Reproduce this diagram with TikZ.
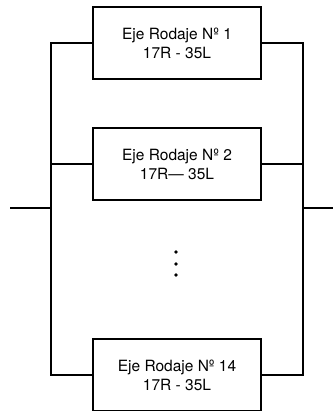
\documentclass[tikz,border=0pt]{standalone}
\usepackage{fontspec}
\setmainfont{TeX Gyre Heros}
\usepackage{tikz}

\begin{document}
\begin{tikzpicture}[x=1pt, y=-1pt, line width=2.2pt,
    eje/.style={rectangle, draw, minimum width=168pt, minimum height=72pt,
        align=center, font=\fontsize{15.5}{19}\selectfont}]
    \useasboundingbox (0,0) rectangle (333,411);

    \node (eje1) [eje] at (177,43) {Eje Rodaje Nº 1\\17R - 35L};
    \node (eje2) [eje] at (177,164) {Eje Rodaje Nº 2\\17R--- 35L};
    \node (eje14) [eje] at (177,375) {Eje Rodaje Nº 14\\17R - 35L};

    \coordinate (lbus) at (51,0);
    \coordinate (rbus) at (303,0);
    \coordinate (entrada) at (10,208);
    \coordinate (salida) at (333,208);

    % buses
    \draw (eje1.west) -| (lbus |- eje14.west) -- (eje14.west);
    \draw (eje1.east) -| (rbus |- eje14.east) -- (eje14.east);
    \draw (eje2.west) -- (lbus |- eje2.west);
    \draw (eje2.east) -- (rbus |- eje2.east);
    \draw (entrada) -- (lbus |- entrada);
    \draw (rbus |- salida) -- (salida);

    % puntos suspensivos
    \foreach \y in {252,264,275}
        \fill (176,\y) circle (1.8pt);
\end{tikzpicture}
\end{document}
